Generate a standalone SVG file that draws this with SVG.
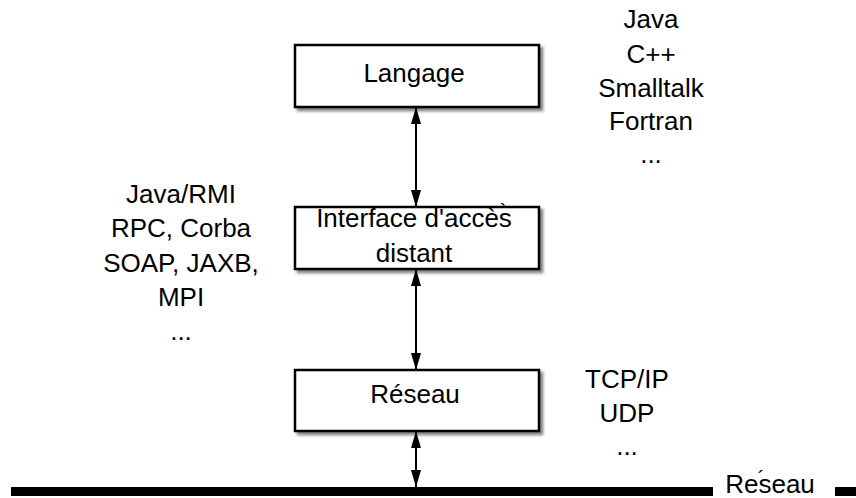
<svg xmlns="http://www.w3.org/2000/svg" width="856" height="498" viewBox="0 0 856 498">
  <style>
    text { font-family: "Liberation Sans", Arial, Helvetica, sans-serif; font-size: 26px; fill: #000; text-anchor: middle; }
    .mark { font-size: 20px; }
    .box { fill: #fff; stroke: #000; stroke-width: 2.5; filter: url(#shadow); }
    .link { stroke: #000; stroke-width: 2; fill: none; marker-start: url(#head); marker-end: url(#head); }
    .bus { fill: #000; }
  </style>
  <defs>
    <filter id="shadow" x="-10%" y="-20%" width="125%" height="150%">
      <feGaussianBlur in="SourceAlpha" stdDeviation="1.5"/>
      <feOffset dx="3" dy="3" result="blur"/>
      <feComponentTransfer><feFuncA type="linear" slope="0.5"/></feComponentTransfer>
      <feMerge><feMergeNode/><feMergeNode in="SourceGraphic"/></feMerge>
    </filter>
    <marker id="head" markerUnits="userSpaceOnUse" markerWidth="18" markerHeight="12" refX="17" refY="6" orient="auto-start-reverse">
      <path d="M0,1 L17,6 L0,11 Z" fill="#000"/>
    </marker>
  </defs>

  <!-- protocol layers -->
  <g id="langage">
    <rect class="box" x="295" y="45" width="244" height="62"/>
    <text x="414" y="82">Langage</text>
  </g>
  <g id="interface">
    <rect class="box" x="295" y="207" width="244" height="62"/>
    <text x="414" y="227">Interface d'accès</text>
    <text class="mark" x="503" y="218">`</text>
    <text x="414" y="262">distant</text>
  </g>
  <g id="reseau">
    <rect class="box" x="295" y="370" width="244" height="61"/>
    <text x="415" y="403">Réseau</text>
  </g>

  <!-- connectors between layers and to the network bus -->
  <g id="connectors">
    <line class="link" x1="416" y1="107" x2="416" y2="207"/>
    <line class="link" x1="416" y1="269" x2="416" y2="370"/>
    <line class="link" x1="416" y1="431" x2="416" y2="487"/>
  </g>

  <!-- network bus -->
  <g id="bus">
    <rect class="bus" x="11" y="487" width="702" height="9"/>
    <rect class="bus" x="835" y="487" width="21" height="9"/>
    <text x="770" y="493">Reseau</text>
    <text class="mark" x="761" y="485">´</text>
  </g>

  <!-- examples for each layer -->
  <g id="lang-examples">
    <text x="651" y="28">Java</text>
    <text x="651" y="63">C++</text>
    <text x="651" y="97">Smalltalk</text>
    <text x="651" y="130">Fortran</text>
    <text x="651" y="163">...</text>
  </g>
  <g id="api-examples">
    <text x="181" y="203">Java/RMI</text>
    <text x="181" y="237">RPC, Corba</text>
    <text x="181" y="272">SOAP, JAXB,</text>
    <text x="181" y="306">MPI</text>
    <text x="181" y="340">...</text>
  </g>
  <g id="net-examples">
    <text x="627" y="388">TCP/IP</text>
    <text x="627" y="422">UDP</text>
    <text x="627" y="455">...</text>
  </g>
</svg>
